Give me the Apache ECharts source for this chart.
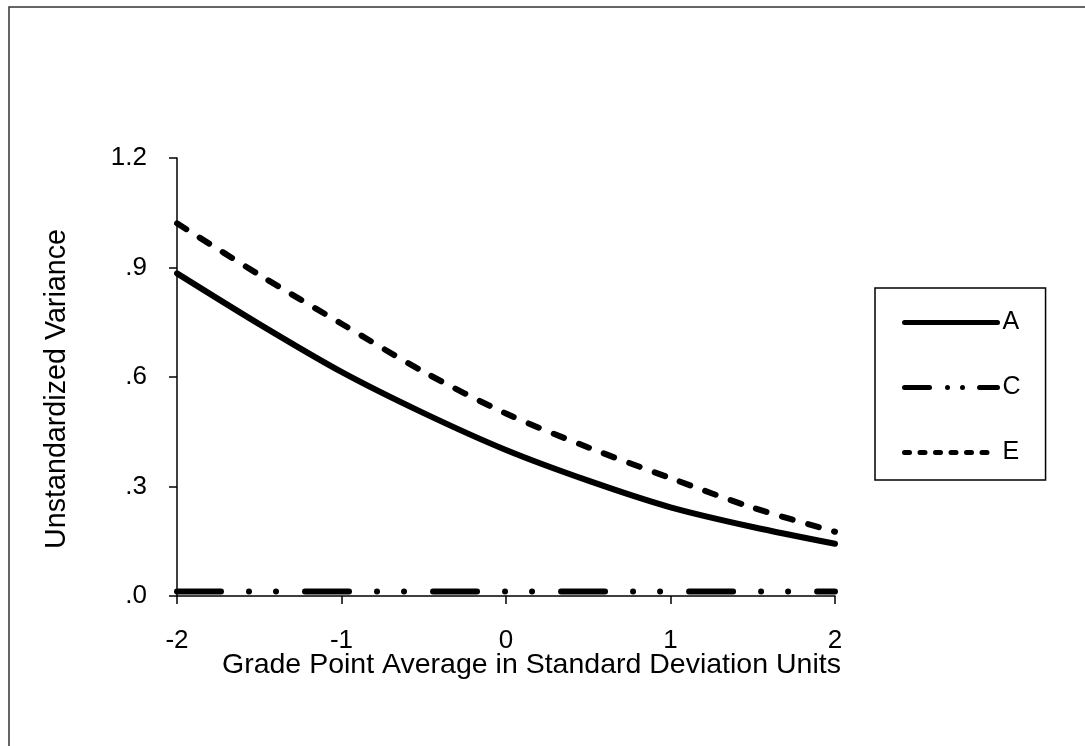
<!DOCTYPE html>
<html>
<head>
<meta charset="utf-8">
<script src="https://cdn.jsdelivr.net/npm/echarts@6/dist/echarts.min.js"></script>
<style>
  html, body { margin: 0; padding: 0; background: #fff; }
  #chart { width: 1085px; height: 746px; }
</style>
</head>
<body>
<div id="chart"></div>
<script>
// grade point average, in SD units
var gpa = [-2, -1.5, -1, -0.5, 0, 0.5, 1, 1.5, 2];
// unstandardized variance components
var varA = [0.884, 0.745, 0.614, 0.501, 0.400, 0.316, 0.243, 0.189, 0.143];
var varC = [0.012, 0.012, 0.012, 0.012, 0.012, 0.012, 0.012, 0.012, 0.012];
var varE = [1.021, 0.880, 0.746, 0.614, 0.500, 0.407, 0.323, 0.242, 0.176];
var yTicks = ['.0', '.3', '.6', '.9', '1.2'];

function pairs(xs, ys) {
    return xs.map(function (x, i) { return [x, ys[i]]; });
}

var FONT = 'Liberation Sans, Arial, sans-serif';
var myChart = echarts.init(document.getElementById('chart'));

option = {
    backgroundColor: '#fff',
    animation: false,
    grid: { left: 177, right: 250, top: 158, bottom: 150 },
    legend: {
        orient: 'vertical',
        left: 875,
        top: 288,
        padding: [22, 25, 15, 27],
        itemWidth: 93,
        itemHeight: 14,
        itemGap: 40,
        borderColor: '#000',
        borderWidth: 1.5,
        itemStyle: { opacity: 0 },
        textStyle: { fontFamily: FONT, fontSize: 25, color: '#000' },
        data: [
            { name: 'A', lineStyle: { width: 5, cap: 'round', type: 'solid' } },
            { name: 'C', lineStyle: { width: 5, cap: 'round', type: [25, 18, 0.01, 15, 0.01, 17, 25] } },
            { name: 'E', lineStyle: { width: 5, cap: 'round', type: [5, 10.5] } }
        ]
    },
    xAxis: {
        type: 'value',
        min: -2, max: 2, interval: 1,
        axisLine: { onZero: false, lineStyle: { color: '#000', width: 1.5 } },
        axisTick: { length: 8, lineStyle: { color: '#000', width: 1.5 } },
        splitLine: { show: false },
        axisLabel: { margin: 32, fontFamily: FONT, fontSize: 26, color: '#000' }
    },
    yAxis: {
        type: 'value',
        min: 0, max: 1.2, interval: 0.3,
        name: 'Unstandardized Variance',
        nameLocation: 'middle',
        nameGap: 105,
        nameTextStyle: { fontFamily: FONT, fontSize: 28.7, color: '#000', padding: [0, 24, 0, 0] },
        axisLine: { show: true, onZero: false, lineStyle: { color: '#000', width: 1.5 } },
        axisTick: { show: true, length: 8, lineStyle: { color: '#000', width: 1.5 } },
        splitLine: { show: false },
        axisLabel: {
            margin: 30, fontFamily: FONT, fontSize: 26, color: '#000',
            formatter: function (v) { return yTicks[Math.round(v / 0.3)]; }
        }
    },
    graphic: [
        {
            type: 'polyline',
            shape: { points: [[9, 746], [9, 7], [1085, 7]] },
            style: { stroke: '#333', lineWidth: 1.5, fill: null }
        },
        {
            type: 'text',
            left: 222, top: 651,
            style: {
                text: 'Grade Point Average in Standard Deviation Units',
                fontFamily: FONT, fontSize: 28.5, fill: '#000'
            }
        }
    ],
    series: [
        {
            name: 'A', type: 'line', smooth: 0.3, symbol: 'none',
            itemStyle: { color: '#000' },
            lineStyle: { color: '#000', width: 6, cap: 'round' },
            data: pairs(gpa, varA)
        },
        {
            name: 'C', type: 'line', symbol: 'none',
            itemStyle: { color: '#000' },
            lineStyle: { color: '#000', width: 6, cap: 'round', type: [44, 28, 0.01, 27, 0.01, 29] },
            data: pairs(gpa, varC)
        },
        {
            name: 'E', type: 'line', smooth: 0.3, symbol: 'none',
            itemStyle: { color: '#000' },
            lineStyle: { color: '#000', width: 6, cap: 'round', type: [11, 16] },
            data: pairs(gpa, varE)
        }
    ]
};

myChart.setOption(option);
</script>
</body>
</html>
